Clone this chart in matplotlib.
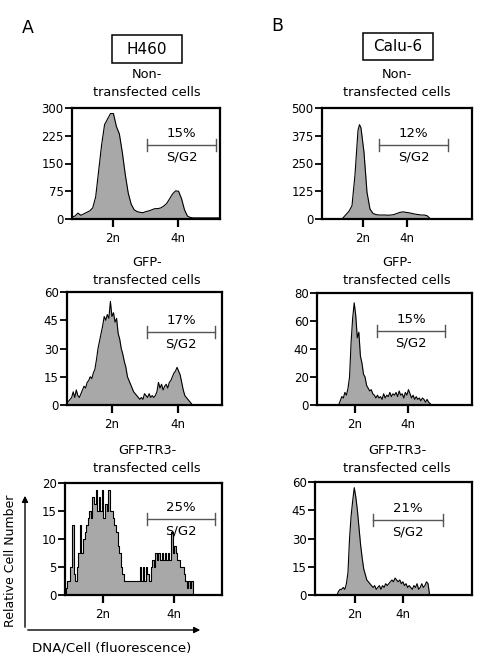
import numpy as np
import matplotlib
matplotlib.use('Agg')
import matplotlib.pyplot as plt
from matplotlib.patches import Rectangle

plt.rcParams['font.family'] = ['DejaVu Sans']

# ---- data (x in % of the axis width, y = cell counts) ----
# H460, non-transfected (step 2)
h460_non_x = np.arange(0, 101, 2)
h460_non_y = [5, 8, 16, 10, 14, 18, 22, 30, 60, 130, 200, 255, 270, 285, 285, 250,
              230, 180, 120, 70, 40, 25, 20, 18, 17, 20, 22, 25, 28, 28, 30, 35,
              42, 55, 68, 76, 75, 55, 25, 8, 4, 3, 3, 3, 3, 3, 3, 3, 3, 3, 3]

# Calu-6, non-transfected
calu_non_x = [14, 16, 18, 20, 22, 24, 25, 26, 28, 30, 32, 34, 36, 38, 40, 42, 44, 46,
              48, 50, 52, 54, 56, 58, 60, 62, 64, 66, 68, 70, 72]
calu_non_y = [5, 20, 35, 60, 200, 400, 425, 410, 300, 120, 45, 25, 20, 18, 18, 18, 17, 18,
              20, 25, 30, 32, 30, 28, 25, 22, 20, 18, 18, 15, 3]

# H460, GFP-transfected (step 1, 0..100)
h460_gfp_x = np.arange(0, 101)
h460_gfp_y = [2, 2, 3, 4, 7, 4, 8, 5, 4, 6, 8, 10, 9, 12, 13, 15, 14, 17, 19, 24,
              30, 34, 38, 42, 47, 45, 48, 46, 55, 47, 49, 44, 46, 38, 35, 30, 27, 23, 20, 15,
              13, 11, 9, 7, 6, 5, 4, 3, 4, 3, 6, 5, 4, 6, 4, 5, 4, 5, 7, 12,
              9, 11, 8, 10, 11, 9, 12, 13, 15, 17, 18, 20, 18, 16, 12, 8, 5, 4, 3, 2,
              1, 0, 0, 0, 0, 0, 0, 0, 0, 0, 0, 0, 0, 0, 0, 0, 0, 0, 0, 0, 0]

# Calu-6, GFP-transfected (step 1, 14..74)
calu_gfp_x = np.arange(14, 75)
calu_gfp_y = [0, 3, 6, 5, 9, 7, 12, 20, 45, 62, 73, 64, 48, 52, 35, 30, 22, 20, 14, 12,
              10, 11, 8, 7, 5, 7, 5, 6, 4, 8, 5, 7, 6, 9, 6, 8, 7, 9, 6, 10,
              7, 8, 5, 9, 7, 11, 8, 5, 7, 4, 6, 4, 5, 3, 5, 4, 2, 4, 2, 1, 0]

# H460, GFP-TR3-transfected (step 1, 0..82)
h460_tr3_x = np.arange(0, 83)
h460_tr3_y = [0, 1.25, 2.5, 2.5, 5, 12.5, 3.75, 2.5, 5, 7.5, 12.5, 7.5, 10, 11.25, 12.5, 13.75,
              15, 13.75, 17.5, 16.25, 18.75, 15, 17.5, 15, 18.75, 13.75, 16.25, 15, 18.75, 15,
              15, 13.75, 12.5, 11.25, 8.75, 7.5, 5, 3.75, 2.5, 2.5, 2.5, 2.5, 2.5, 2.5, 2.5,
              2.5, 2.5, 2.5, 5, 2.5, 5, 2.5, 5, 3.75, 2.5, 5, 6.25, 5, 7.5, 6.25, 7.5, 6.25,
              7.5, 6.25, 7.5, 6.25, 7.5, 6.25, 11.25, 7.5, 8.75, 7.5, 6.25, 6.25, 5, 5, 3.75,
              2.5, 1.25, 2.5, 1.25, 2.5, 0]

# Calu-6, GFP-TR3-transfected (step 1, 14..73)
calu_tr3_x = np.arange(14, 74)
calu_tr3_y = [0, 2, 3, 3, 4, 3, 6, 12, 30, 42, 50, 57, 52, 45, 36, 27, 20, 14, 11, 8,
              7, 6, 5, 4, 5, 3, 4, 5, 3, 5, 4, 6, 5, 6, 7, 8, 7, 9, 8, 7,
              8, 6, 7, 5, 6, 4, 5, 4, 3, 5, 4, 6, 3, 4, 6, 4, 5, 7, 6, 0]

titles = ['Non-\ntransfected cells', 'GFP-\ntransfected cells', 'GFP-TR3-\ntransfected cells']
pct_h460 = ['15%', '17%', '25%']
pct_calu = ['12%', '15%', '21%']
yticks_h460 = [[0, 75, 150, 225, 300], [0, 15, 30, 45, 60], [0, 5, 10, 15, 20]]
yticks_calu = [[0, 125, 250, 375, 500], [0, 20, 40, 60, 80], [0, 15, 30, 45, 60]]

W, H = 480, 659
fig = plt.figure(figsize=(W / 100, H / 100), dpi=100)


def ax_px(l, r, t, b):
    return fig.add_axes([l / W, 1 - b / H, (r - l) / W, (b - t) / H])


def setup(ax, yt, ticks2n4n, pct, brk, bry):
    ax.set_xlim(0, 100)
    ax.set_ylim(0, yt[-1])
    ax.set_yticks(yt)
    ax.set_xticks(ticks2n4n)
    ax.set_xticklabels(['2n', '4n'])
    for s in ax.spines.values():
        s.set_linewidth(1.6)
    ax.tick_params(axis='y', length=5, width=1.3, pad=1, labelsize=8.5)
    ax.tick_params(axis='x', length=6, width=1.6, pad=3, labelsize=8.5)
    # S/G2 bracket
    ax.plot(brk, [bry, bry], color='#555555', lw=1)
    for xb in brk:
        ax.plot([xb, xb], [bry - yt[-1] * 0.055, bry + yt[-1] * 0.055], color='#555555', lw=1)
    xm = (brk[0] + brk[1]) / 2
    ax.text(xm, bry + yt[-1] * 0.1, pct, ha='center', va='center', fontsize=9.5)
    ax.text(xm, bry - yt[-1] * 0.11, 'S/G2', ha='center', va='center', fontsize=9.5)


def hist(ax, x, y, step=None):
    if step:
        ax.fill_between(x, y, color='#a8a8a8', step='mid', lw=0)
        ax.plot(x, y, color='black', lw=0.8, drawstyle='steps-mid')
    else:
        ax.fill_between(x, y, color='#a8a8a8', lw=0)
        ax.plot(x, y, color='black', lw=0.8)


# left column (H460)
a1 = ax_px(72, 220, 108, 219)
hist(a1, h460_non_x, h460_non_y)
setup(a1, yticks_h460[0], [27.7, 71.6], pct_h460[0], [50.7, 97.3], 200)

a2 = ax_px(67, 222, 292, 405)
hist(a2, h460_gfp_x, h460_gfp_y)
setup(a2, yticks_h460[1], [29, 71.6], pct_h460[1], [51.6, 95.5], 38.8)

a3 = ax_px(65, 222, 483, 595)
hist(a3, h460_tr3_x, h460_tr3_y, step=True)
setup(a3, yticks_h460[2], [24.2, 69.4], pct_h460[2], [52, 95.5], 13.6)

# right column (Calu-6)
b1 = ax_px(322, 472, 108, 219)
hist(b1, calu_non_x, calu_non_y)
setup(b1, yticks_calu[0], [27.3, 56.7], pct_calu[0], [38, 84], 333)

b2 = ax_px(317, 472, 293, 405)
hist(b2, calu_gfp_x, calu_gfp_y)
setup(b2, yticks_calu[1], [24.5, 58.7], pct_calu[1], [38.7, 82.6], 52.8)

b3 = ax_px(315, 472, 482, 595)
hist(b3, calu_tr3_x, calu_tr3_y)
setup(b3, yticks_calu[2], [25.5, 56], pct_calu[2], [37, 81.5], 39.8)


def ftext(x, y, s, **kw):
    fig.text(x / W, 1 - y / H, s, **kw)


# panel titles
for cx, tys in [(147, [75, 262, 450]), (397, [75, 262, 450])]:
    for t, ty in zip(titles, tys):
        ftext(cx, ty + 9, t, ha='center', va='center', fontsize=9.3, linespacing=1.5)

ftext(28, 28, 'A', ha='center', va='center', fontsize=12.5)
ftext(277, 26, 'B', ha='center', va='center', fontsize=12.5)

# cell-line boxes
for (l, r, t, b), name in [((112, 182, 35, 63), 'H460'), ((363, 433, 33, 60), 'Calu-6')]:
    fig.patches.append(Rectangle((l / W, 1 - b / H), (r - l) / W, (b - t) / H,
                                 transform=fig.transFigure, fill=False, lw=1.1, ec='black'))
    ftext((l + r) / 2, (t + b) / 2, name, ha='center', va='center', fontsize=11)

# axis arrows
fig.patches.append(matplotlib.patches.FancyArrowPatch((25 / W, 1 - 630 / H), (25 / W, 1 - 493 / H),
                   transform=fig.transFigure, arrowstyle='-|>', mutation_scale=9, lw=1, color='black'))
fig.patches.append(matplotlib.patches.FancyArrowPatch((25 / W, 1 - 630 / H), (203 / W, 1 - 630 / H),
                   transform=fig.transFigure, arrowstyle='-|>', mutation_scale=9, lw=1, color='black'))
ftext(11, 561, 'Relative Cell Number', ha='center', va='center', rotation=90, fontsize=9)
ftext(112, 648, 'DNA/Cell (fluorescence)', ha='center', va='center', fontsize=9.6)

fig.savefig('out.png', dpi=100)
